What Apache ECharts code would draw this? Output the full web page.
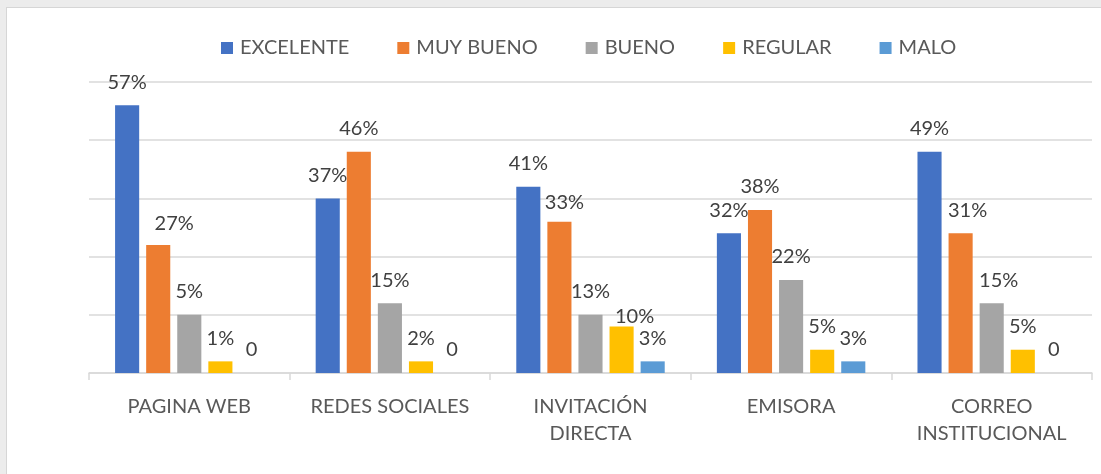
<!DOCTYPE html>
<html>
<head>
<meta charset="utf-8">
<script src="https://cdn.jsdelivr.net/npm/echarts@6/dist/echarts.min.js"></script>
<style>
    html, body { margin: 0; padding: 0; background: #ececec; overflow: hidden; }
    #Chart_1 {
        position: absolute; left: 6px; top: 7px;
        width: 1094px; height: 466px;
        background: #fff;
        border-left: 1px solid #d6d6d6;
        border-top: 1px solid #d6d6d6;
    }
</style>
</head>
<body>
<div id="Chart_1"></div>
<script>
    // categorias y series (alturas de barra, escala 0-25)
    var categorias = ['PAGINA WEB', 'REDES SOCIALES', 'INVITACIÓN\nDIRECTA', 'EMISORA', 'CORREO\nINSTITUCIONAL'];
    var nombres = ['EXCELENTE', 'MUY BUENO', 'BUENO', 'REGULAR', 'MALO'];
    var excelente = [23, 15, 16, 12, 19];
    var muyBueno = [11, 19, 13, 14, 12];
    var bueno = [5, 6, 5, 8, 6];
    var regular = [1, 1, 4, 2, 2];
    var malo = [0, 0, 1, 1, 0];
    // etiquetas tal como aparecen en el grafico
    var etqExcelente = ['57%', '37%', '41%', '32%', '49%'];
    var etqMuyBueno = ['27%', '46%', '33%', '38%', '31%'];
    var etqBueno = ['5%', '15%', '13%', '22%', '15%'];
    var etqRegular = ['1%', '2%', '10%', '5%', '5%'];
    var etqMalo = ['0', '0', '3%', '3%', '0'];

    var valores = [excelente, muyBueno, bueno, regular, malo];
    var etiquetas = [etqExcelente, etqMuyBueno, etqBueno, etqRegular, etqMalo];
    var colores = ['#4472C4', '#ED7D31', '#A5A5A5', '#FFC000', '#5B9BD5'];
    // corrimientos de etiquetas que Excel movio a mano (serie-categoria: [dx, dy])
    var ajustes = {'1-0': [16, 2], '1-2': [5, 4], '3-2': [13, 13], '1-4': [7, 0], '2-4': [7, 0]};

    var chart1 = echarts.init(document.getElementById('Chart_1'));

    var series = [];
    for (var s = 0; s < valores.length; s++) {
        var datos = [];
        for (var i = 0; i < valores[s].length; i++) {
            var item = {value: valores[s][i]};
            var aj = ajustes[s + '-' + i];
            if (aj) {
                item.label = {offset: aj};
            }
            datos.push(item);
        }
        (function (lbl) {
            series.push({
                name: nombres[s],
                type: 'bar',
                barGap: '29%',
                barCategoryGap: '26%',
                itemStyle: {color: colores[s]},
                label: {
                    show: true,
                    position: 'top',
                    distance: 13,
                    color: '#404040',
                    fontSize: 20,
                    fontFamily: 'Lato',
                    formatter: function (p) {
                        return lbl[p.dataIndex];
                    }
                },
                data: datos
            });
        })(etiquetas[s]);
    }

    var option1 = {
        animation: false,
        legend: {
            left: 214,
            top: 30,
            padding: 0,
            itemWidth: 12,
            itemHeight: 12,
            itemGap: 48,
            icon: 'rect',
            textStyle: {color: '#595959', fontSize: 20, fontFamily: 'Lato', padding: [0, 0, 0, 2]},
            data: nombres
        },
        grid: {
            left: 82,
            right: 9,
            top: 74,
            bottom: 101
        },
        xAxis: {
            type: 'category',
            data: categorias,
            axisLine: {lineStyle: {color: '#d9d9d9', width: 1.5}},
            axisTick: {show: true, length: 7, lineStyle: {color: '#d9d9d9', width: 1.5}},
            axisLabel: {
                color: '#595959',
                fontSize: 20,
                fontFamily: 'Lato',
                lineHeight: 27,
                margin: 20,
                interval: 0
            }
        },
        yAxis: {
            type: 'value',
            min: 0,
            max: 25,
            interval: 5,
            axisLabel: {show: false},
            axisLine: {show: false},
            axisTick: {show: false},
            splitLine: {lineStyle: {color: '#d9d9d9', width: 1.5}}
        },
        series: series
    };
    chart1.setOption(option1);
</script>
</body>
</html>
